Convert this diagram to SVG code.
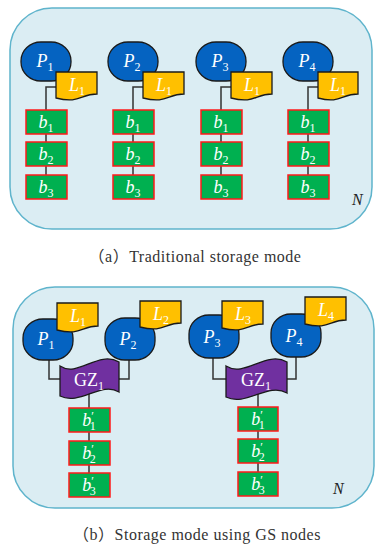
<svg xmlns="http://www.w3.org/2000/svg" width="381" height="544" viewBox="0 0 381 544">
<defs>
<style>
.panel{fill:#dbedf3;stroke:#5fb4cc;stroke-width:1.5}
.p{fill:#0563c1;stroke:#1a1a1a;stroke-width:1.3}
.l{fill:#ffc000;stroke:#1a1a1a;stroke-width:1.3}
.b{fill:#00b050;stroke:#ff1a1a;stroke-width:1.5}
.gz{fill:#7030a0;stroke:#1a1a1a;stroke-width:1.3}
.c{fill:none;stroke:#333;stroke-width:1.5}
.t{fill:#fff;font-family:'Liberation Serif','Times New Roman','DejaVu Serif',serif;font-style:italic;font-size:18px;text-anchor:middle}
.u{font-style:normal}
.s{font-style:normal;font-size:12px}
.n{fill:#222;font-family:'Liberation Serif','Times New Roman','DejaVu Serif',serif;font-style:italic;font-size:16px}
.cap{fill:#333;font-family:'Liberation Serif','Times New Roman','DejaVu Serif','Noto Sans CJK SC',serif;font-size:16px;letter-spacing:0.5px;text-anchor:middle}
</style>
</defs>
<rect class="panel" x="10" y="8" width="362" height="221" rx="42"/>
<rect class="panel" x="13" y="287" width="361" height="221" rx="42"/>
<g id="connectors">
<path class="c" d="M56,87H46V110M46,134V142M46,166V175"/>
<path class="c" d="M143,87H133V110M133,134V142M133,166V175"/>
<path class="c" d="M231,87H221V110M221,134V142M221,166V175"/>
<path class="c" d="M318,87H308V110M308,134V142M308,166V175"/>
<path class="c" d="M49,358V379H61M129,358V379H118M89,392V408M89,432V441M89,465V473"/>
<path class="c" d="M213,356V379H227M296,355V379H286M258,393V407M258,431V439M258,463V472"/>
</g>
<g id="a-col1">
<rect class="p" x="21" y="42" width="50" height="39" rx="20" ry="19"/>
<text class="t" x="45" y="67">P<tspan class="s" dy="4">1</tspan></text>
<path class="l" d="M56,72H97V94C80,94 80,104 56,98Z"/>
<text class="t" x="77" y="91">L<tspan class="s" dy="4">1</tspan></text>
<rect class="b" x="26" y="110" width="41" height="24"/><text class="t" x="46" y="128">b<tspan class="s" dy="4">1</tspan></text>
<rect class="b" x="26" y="142" width="41" height="24"/><text class="t" x="46" y="160">b<tspan class="s" dy="4">2</tspan></text>
<rect class="b" x="26" y="175" width="41" height="24"/><text class="t" x="46" y="193">b<tspan class="s" dy="4">3</tspan></text>
</g>
<g id="a-col2">
<rect class="p" x="108" y="42" width="50" height="39" rx="20" ry="19"/>
<text class="t" x="132" y="67">P<tspan class="s" dy="4">2</tspan></text>
<path class="l" d="M143,72H184V94C167,94 167,104 143,98Z"/>
<text class="t" x="164" y="91">L<tspan class="s" dy="4">1</tspan></text>
<rect class="b" x="113" y="110" width="41" height="24"/><text class="t" x="133" y="128">b<tspan class="s" dy="4">1</tspan></text>
<rect class="b" x="113" y="142" width="41" height="24"/><text class="t" x="133" y="160">b<tspan class="s" dy="4">2</tspan></text>
<rect class="b" x="113" y="175" width="41" height="24"/><text class="t" x="133" y="193">b<tspan class="s" dy="4">3</tspan></text>
</g>
<g id="a-col3">
<rect class="p" x="196" y="42" width="50" height="39" rx="20" ry="19"/>
<text class="t" x="220" y="67">P<tspan class="s" dy="4">3</tspan></text>
<path class="l" d="M231,72H272V94C255,94 255,104 231,98Z"/>
<text class="t" x="252" y="91">L<tspan class="s" dy="4">1</tspan></text>
<rect class="b" x="201" y="110" width="41" height="24"/><text class="t" x="221" y="128">b<tspan class="s" dy="4">1</tspan></text>
<rect class="b" x="201" y="142" width="41" height="24"/><text class="t" x="221" y="160">b<tspan class="s" dy="4">2</tspan></text>
<rect class="b" x="201" y="175" width="41" height="24"/><text class="t" x="221" y="193">b<tspan class="s" dy="4">3</tspan></text>
</g>
<g id="a-col4">
<rect class="p" x="283" y="42" width="50" height="39" rx="20" ry="19"/>
<text class="t" x="307" y="67">P<tspan class="s" dy="4">4</tspan></text>
<path class="l" d="M318,72H358V94C341,94 341,104 318,98Z"/>
<text class="t" x="338" y="91">L<tspan class="s" dy="4">1</tspan></text>
<rect class="b" x="288" y="110" width="41" height="24"/><text class="t" x="308" y="128">b<tspan class="s" dy="4">1</tspan></text>
<rect class="b" x="288" y="142" width="41" height="24"/><text class="t" x="308" y="160">b<tspan class="s" dy="4">2</tspan></text>
<rect class="b" x="288" y="175" width="41" height="24"/><text class="t" x="308" y="193">b<tspan class="s" dy="4">3</tspan></text>
</g>
<text class="n" x="352" y="205">N</text>
<text class="cap" x="195" y="262">（a）Traditional storage mode</text>
<g id="b-left">
<rect class="p" x="23" y="319" width="50" height="41" rx="20" ry="19"/>
<text class="t" x="46" y="345">P<tspan class="s" dy="4">1</tspan></text>
<path class="l" d="M57,303H98V326C81,326 81,336 57,330Z"/>
<text class="t" x="78" y="322">L<tspan class="s" dy="4">1</tspan></text>
<rect class="p" x="105" y="318" width="50" height="42" rx="20" ry="19"/>
<text class="t" x="128" y="345">P<tspan class="s" dy="4">2</tspan></text>
<path class="l" d="M140,301H181V323C164,323 164,333 140,327Z"/>
<text class="t" x="161" y="320">L<tspan class="s" dy="4">2</tspan></text>
<path class="gz" d="M60,366C78,378 98,350 119,362V392C101,381 80,406 60,396Z"/>
<text class="t u" x="89" y="386">GZ<tspan class="s" dy="4">1</tspan></text>
<rect class="b" x="69" y="408" width="41" height="24"/><text class="t" x="89" y="426">b<tspan class="s" dy="-6">′</tspan><tspan class="s" dx="-4" dy="10">1</tspan></text>
<rect class="b" x="69" y="441" width="41" height="24"/><text class="t" x="89" y="459">b<tspan class="s" dy="-6">′</tspan><tspan class="s" dx="-4" dy="10">2</tspan></text>
<rect class="b" x="69" y="473" width="41" height="24"/><text class="t" x="89" y="491">b<tspan class="s" dy="-6">′</tspan><tspan class="s" dx="-4" dy="10">3</tspan></text>
</g>
<g id="b-right">
<rect class="p" x="189" y="315" width="50" height="43" rx="20" ry="19"/>
<text class="t" x="212" y="343">P<tspan class="s" dy="4">3</tspan></text>
<path class="l" d="M222,301H263V324C246,324 246,334 222,328Z"/>
<text class="t" x="243" y="320">L<tspan class="s" dy="4">3</tspan></text>
<rect class="p" x="271" y="314" width="50" height="43" rx="20" ry="19"/>
<text class="t" x="294" y="342">P<tspan class="s" dy="4">4</tspan></text>
<path class="l" d="M305,297H346V320C329,320 329,330 305,324Z"/>
<text class="t" x="326" y="316">L<tspan class="s" dy="4">4</tspan></text>
<path class="gz" d="M226,366C245,378 266,350 287,362V393C268,382 246,407 226,397Z"/>
<text class="t u" x="256" y="386">GZ<tspan class="s" dy="4">1</tspan></text>
<rect class="b" x="238" y="407" width="40" height="24"/><text class="t" x="258" y="425">b<tspan class="s" dy="-6">′</tspan><tspan class="s" dx="-4" dy="10">1</tspan></text>
<rect class="b" x="238" y="439" width="40" height="24"/><text class="t" x="258" y="457">b<tspan class="s" dy="-6">′</tspan><tspan class="s" dx="-4" dy="10">2</tspan></text>
<rect class="b" x="238" y="472" width="40" height="24"/><text class="t" x="258" y="490">b<tspan class="s" dy="-6">′</tspan><tspan class="s" dx="-4" dy="10">3</tspan></text>
</g>
<text class="n" x="333" y="494">N</text>
<text class="cap" x="197" y="540">（b）Storage mode using GS nodes</text>
</svg>
